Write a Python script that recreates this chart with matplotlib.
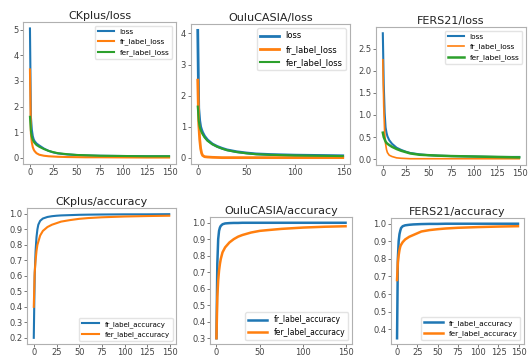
import matplotlib
matplotlib.use("Agg")
import matplotlib.pyplot as plt

W, H = 531, 356

epochs = [0, 1, 2, 3, 4, 5, 7, 10, 15, 20, 25, 30, 40, 50, 60, 75, 100, 125, 149]

ck_loss = [5.05, 1.6, 1.1, 0.85, 0.72, 0.65, 0.56, 0.48, 0.36, 0.27, 0.21, 0.17, 0.13, 0.11, 0.09, 0.08, 0.07, 0.06, 0.06]
ck_fr_loss = [3.45, 0.95, 0.6, 0.42, 0.32, 0.26, 0.18, 0.12, 0.08, 0.06, 0.05, 0.04, 0.03, 0.025, 0.02, 0.02, 0.015, 0.01, 0.01]
ck_fer_loss = [1.6, 1.05, 0.82, 0.7, 0.63, 0.58, 0.5, 0.43, 0.34, 0.27, 0.22, 0.18, 0.14, 0.11, 0.1, 0.08, 0.07, 0.06, 0.06]

oulu_loss = [4.1, 1.6, 1.2, 1.0, 0.9, 0.82, 0.7, 0.58, 0.45, 0.37, 0.31, 0.26, 0.2, 0.16, 0.13, 0.11, 0.09, 0.08, 0.07]
oulu_fr_loss = [2.5, 1.1, 0.6, 0.3, 0.15, 0.08, 0.04, 0.03, 0.02, 0.015, 0.01, 0.01, 0.01, 0.01, 0.01, 0.01, 0.01, 0.01, 0.01]
oulu_fer_loss = [1.65, 1.2, 1.0, 0.9, 0.82, 0.76, 0.66, 0.55, 0.44, 0.36, 0.3, 0.25, 0.19, 0.15, 0.12, 0.1, 0.08, 0.07, 0.06]

fers_loss = [2.85, 1.7, 1.05, 0.72, 0.6, 0.52, 0.43, 0.35, 0.26, 0.21, 0.17, 0.14, 0.11, 0.09, 0.08, 0.07, 0.06, 0.05, 0.05]
fers_fr_loss = [2.25, 1.2, 0.6, 0.35, 0.22, 0.15, 0.09, 0.06, 0.03, 0.02, 0.015, 0.01, 0.01, 0.01, 0.01, 0.01, 0.01, 0.01, 0.01]
fers_fer_loss = [0.6, 0.5, 0.45, 0.4, 0.37, 0.35, 0.32, 0.28, 0.23, 0.19, 0.16, 0.13, 0.1, 0.09, 0.08, 0.07, 0.06, 0.05, 0.04]

ck_fr_acc = [0.2, 0.6, 0.76, 0.85, 0.9, 0.93, 0.955, 0.97, 0.98, 0.985, 0.988, 0.99, 0.992, 0.994, 0.995, 0.996, 0.997, 0.997, 0.998]
ck_fer_acc = [0.4, 0.62, 0.7, 0.76, 0.8, 0.82, 0.86, 0.89, 0.915, 0.93, 0.94, 0.95, 0.96, 0.968, 0.973, 0.978, 0.983, 0.986, 0.988]

oulu_fr_acc = [0.3, 0.75, 0.9, 0.95, 0.97, 0.98, 0.99, 0.995, 0.997, 0.998, 0.998, 0.999, 0.999, 0.999, 0.999, 0.999, 0.999, 0.999, 0.999]
oulu_fer_acc = [0.3, 0.55, 0.65, 0.71, 0.75, 0.78, 0.82, 0.85, 0.88, 0.9, 0.915, 0.925, 0.94, 0.95, 0.955, 0.962, 0.97, 0.975, 0.978]

fers_fr_acc = [0.35, 0.8, 0.9, 0.94, 0.96, 0.975, 0.985, 0.99, 0.993, 0.995, 0.996, 0.997, 0.998, 0.998, 0.999, 0.999, 0.999, 0.999, 0.999]
fers_fer_acc = [0.68, 0.78, 0.82, 0.85, 0.87, 0.88, 0.895, 0.91, 0.925, 0.935, 0.945, 0.955, 0.963, 0.968, 0.972, 0.976, 0.98, 0.983, 0.985]

BLUE, ORANGE, GREEN = "#1f77b4", "#ff7f0e", "#2ca02c"

fig = plt.figure(figsize=(W / 100, H / 100), dpi=100)


def add_ax(l, t, r, b):
    return fig.add_axes([l / W, 1 - b / H, (r - l) / W, (b - t) / H])


def style(ax, title, xticks, yticks=None, yfmt=None):
    ax.set_title(title, fontsize=8, pad=2.5, color="#222")
    ax.set_xticks(xticks)
    if yticks is not None:
        ax.set_yticks(yticks)
        if yfmt:
            ax.set_yticklabels([yfmt.format(v) for v in yticks])
    ax.tick_params(labelsize=6, length=2, width=0.5, pad=1.2, colors="#444")
    for s in ax.spines.values():
        s.set_color("#b0b0b0")
        s.set_linewidth(0.8)


# Row 1: losses
ax1 = add_ax(23, 22, 176, 164)
ax1.plot(epochs, ck_loss, color=BLUE, lw=1.5, label="loss")
ax1.plot(epochs, ck_fr_loss, color=ORANGE, lw=1.5, label="fr_label_loss")
ax1.plot(epochs, ck_fer_loss, color=GREEN, lw=1.5, label="fer_label_loss")
style(ax1, "CKplus/loss", [0, 25, 50, 75, 100, 125, 150], [0, 1, 2, 3, 4, 5])
ax1.legend(fontsize=5.3, loc="upper right", handlelength=2.2, frameon=True, edgecolor="#ddd")

ax2 = add_ax(190.5, 24, 350, 164)
ax2.plot(epochs, oulu_loss, color=BLUE, lw=2, label="loss")
ax2.plot(epochs, oulu_fr_loss, color=ORANGE, lw=2, label="fr_label_loss")
ax2.plot(epochs, oulu_fer_loss, color=GREEN, lw=1.5, label="fer_label_loss")
style(ax2, "OuluCASIA/loss", [0, 50, 100, 150], [0, 1, 2, 3, 4])
ax2.legend(fontsize=6, loc="upper right", handlelength=2.2, frameon=True, edgecolor="#ddd")

ax3 = add_ax(376, 27, 526, 165)
ax3.plot(epochs, fers_loss, color=BLUE, lw=1.5, label="loss")
ax3.plot(epochs, fers_fr_loss, color=ORANGE, lw=1.2, label="fr_label_loss")
ax3.plot(epochs, fers_fer_loss, color=GREEN, lw=1.8, label="fer_label_loss")
style(ax3, "FERS21/loss", [0, 25, 50, 75, 100, 125, 150], [0.0, 0.5, 1.0, 1.5, 2.0, 2.5], "{:.1f}")
ax3.legend(fontsize=5.3, loc="upper right", handlelength=2.2, frameon=True, edgecolor="#ddd")

# Row 2: accuracies
ax4 = add_ax(27, 208, 176, 344)
ax4.plot(epochs, ck_fr_acc, color=BLUE, lw=1.5, label="fr_label_accuracy")
ax4.plot(epochs, ck_fer_acc, color=ORANGE, lw=1.5, label="fer_label_accuracy")
style(ax4, "CKplus/accuracy", [0, 25, 50, 75, 100, 125, 150],
      [0.2, 0.3, 0.4, 0.5, 0.6, 0.7, 0.8, 0.9, 1.0], "{:.1f}")
ax4.legend(fontsize=5, loc="lower right", handlelength=2.5, frameon=True, edgecolor="#ddd")

ax5 = add_ax(210, 217, 352, 344)
ax5.plot(epochs, oulu_fr_acc, color=BLUE, lw=1.8, label="fr_label_accuracy")
ax5.plot(epochs, oulu_fer_acc, color=ORANGE, lw=1.8, label="fer_label_accuracy")
style(ax5, "OuluCASIA/accuracy", [0, 50, 100, 150],
      [0.3, 0.4, 0.5, 0.6, 0.7, 0.8, 0.9, 1.0], "{:.1f}")
ax5.legend(fontsize=5.5, loc="lower right", handlelength=2.5, frameon=True, edgecolor="#ddd")

ax6 = add_ax(391, 218, 524, 344)
ax6.plot(epochs, fers_fr_acc, color=BLUE, lw=1.8, label="fr_label_accuracy")
ax6.plot(epochs, fers_fer_acc, color=ORANGE, lw=1.8, label="fer_label_accuracy")
style(ax6, "FERS21/accuracy", [0, 25, 50, 75, 100, 125, 150],
      [0.4, 0.5, 0.6, 0.7, 0.8, 0.9, 1.0], "{:.1f}")
ax6.legend(fontsize=5.3, loc="lower right", handlelength=2.5, frameon=True, edgecolor="#ddd")

fig.savefig("out.png", dpi=100)
